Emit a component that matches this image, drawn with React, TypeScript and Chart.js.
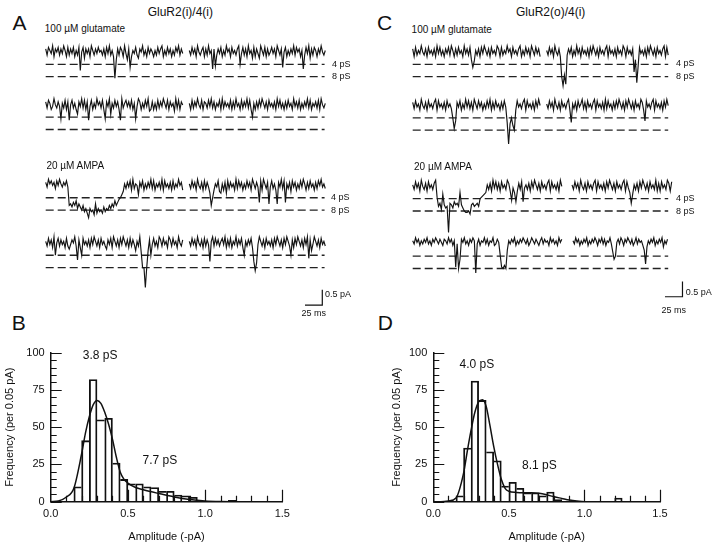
import React, { useEffect, useRef } from "react";
import { Chart, registerables } from "chart.js";
Chart.register(...registerables);

const FONT = "'Liberation Sans', Arial, Helvetica, sans-serif";
Chart.defaults.font.family = FONT;
Chart.defaults.color = "#111";

// ---------------- DATA ----------------
// Amplitude histograms (bin left edges, bin width 0.05 pA)
const binWidth = 0.05;
const binStartsB = [0.15, 0.2, 0.25, 0.3, 0.35, 0.4, 0.45, 0.5, 0.55, 0.6, 0.65, 0.7, 0.75, 0.8, 0.85, 0.9, 0.95, 1.0, 1.05, 1.1, 1.15, 1.2];
const countsB = [10, 41, 82, 55, 56, 26, 15, 12, 12, 10, 9.5, 7, 7, 4.5, 4, 3, 0, 0, 0, 0, 1, 0];
const binStartsD = [0.15, 0.2, 0.25, 0.3, 0.35, 0.4, 0.45, 0.5, 0.55, 0.6, 0.65, 0.7, 0.75, 0.8, 0.85, 0.9, 0.95, 1.0, 1.05, 1.1, 1.15, 1.2, 1.25];
const countsD = [4, 36, 81, 68, 33.5, 27.5, 10.5, 13, 9, 6, 6, 4, 6.5, 1.5, 0, 0, 0, 0, 0, 0, 0, 2.5, 0];

// Fitted curves (amplitude pA, frequency)
const fitBx = [0, 0.05, 0.1, 0.15, 0.2, 0.225, 0.25, 0.275, 0.3, 0.325, 0.35, 0.375, 0.4, 0.425, 0.45, 0.475, 0.5, 0.55, 0.6, 0.7, 0.8, 0.9, 1.0, 1.1, 1.2];
const fitBy = [0, 0.5, 3, 9, 32, 46, 57, 65, 68, 66, 60, 52, 42, 30, 20, 15, 12.5, 9.5, 8, 5.5, 3.2, 1.5, 0.5, 0.1, 0];
const fitDx = [0, 0.05, 0.1, 0.15, 0.2, 0.225, 0.25, 0.275, 0.3, 0.325, 0.35, 0.375, 0.4, 0.425, 0.45, 0.475, 0.5, 0.55, 0.6, 0.65, 0.7, 0.75, 0.8, 0.85, 0.9, 0.95, 1.0];
const fitDy = [0, 0, 0.5, 2.5, 19, 34, 48, 60, 67, 68.5, 64, 51, 37, 25, 15, 9, 7, 6.2, 6, 6, 5.6, 4.6, 3.3, 2.2, 1.1, 0.4, 0];

const xTickLabels = ["0.0", "0.5", "1.0", "1.5"];
const yTickLabels = ["0", "25", "50", "75", "100"];

// Single-channel traces. Each character is one sample; level code c -> (4 - index(c)) * 0.05 pA
const LEVELS = "0123456789abcdefghijklmnopqrstuvwxyz";
const LEVEL_STEP_PA = 0.05;
const LEVEL_ZERO = 4;

const traceA1 = [
  "2613507241" + "6250371625" + "17361g4182" + "5270362514" + "3627150637" + "l926137059" + "2e73516824" + "0637152473" + "6152073615" + "2736140625",
  "3615270463" + "1726053f2d" + "6251736042" + "7153620c51" + "6270538172" + "5803617264" + "15270362e4" + "1736250614" + "273f615082" + "6137250463",
];
const traceA2 = [
  "2613750462" + "5d36172e41" + "637a250617" + "2e51736042" + "617d250a36" + "1527e06315" + "26173d5027" + "3615087273" + "7162503617" + "2538061724",
  "3716250461" + "7236150627" + "3517062536" + "1726053716" + "250617c372" + "6150362715" + "3627051637" + "2615370526" + "1736250617" + "3526170463",
];
const traceA3 = [
  "2503142614" + "0352415hgi" + "fhejgikhlj" + "mpjlkngmjl" + "kmiljkhjgi" + "ehfdca8362" + "5170634a25" + "1736250617" + "3526071536" + "2716350427",
  "3615270462" + "716259hc73" + "5189372916" + "2537061527" + "3615270362" + "5f170362g5" + "1637g25061" + "f362815273" + "6150372615" + "3726140536",
];
const traceA4 = [
  "3615270c41" + "6253716852" + "406f27c153" + "6271503627" + "1536825170" + "3627150362" + "716259360a" + "kkxk92c516" + "3702615370" + "2615370462",
  "3615270462" + "71625g3061" + "5263150726" + "1735062517" + "c362517gmh" + "5036271536" + "2715036271" + "5036c27150" + "3627150e29" + "5036271536",
];
const traceC1 = [
  "2716350462" + "7153627051" + "6372516037" + "2615370526" + "19ea362715" + "0362715360" + "2716350427" + "1536207361" + "5270361527",
  "3615270462" + "7kqjp62517" + "3605271536" + "2715036271" + "5362071536" + "2715360271" + "5362h9od15" + "3627150362" + "7153620716",
];
const traceC2 = [
  "2615370462" + "7153620715" + "36271536cj" + "e251736051" + "6270361527" + "3615072615" + "372615ftgc" + "hk71536207" + "1536271504",
  "3615270462" + "71536207f3" + "6271530627" + "1536207153" + "6270615372" + "6150362715" + "0362715360" + "27e1536207" + "1536271504",
];
const traceC3 = [
  "3615270462" + "7153620bhf" + "j9gihyfgie" + "gfh8gikllk" + "mgfhgfhcba" + "9836270516" + "271536027d" + "58e7261e53" + "6271503627" + "1536207153" + "62704",
  "3615270462" + "7153620715" + "3627150362" + "7153620715" + "8f93627150" + "3627153607" + "2715360271",
];
const traceC4 = [
  "2403152413" + "0425130241" + "3512403152" + "j4ke130425" + "1302n41523" + "0415230541" + "3bjkik8241" + "3052413024" + "1530241352" + "0413250314" + "25031",
  "2403152413" + "0524130251" + "3041523049" + "ec31402513" + "0241530413" + "258h624130" + "5241306241",
];

// segment time windows (ms)
const segTimesA = [[0, 198], [207.5, 404]];
const segTimesC1 = [[0, 182], [191.4, 365]];
const segTimesC2 = [[0, 182], [191.4, 365]];
const segTimesC3 = [[0, 213], [227.6, 370]];
const segTimesC4 = [[0, 213], [229, 364]];

const levelsPA = [-0.4, -0.8]; // 4 pS and 8 pS current levels
const levelNames = ["4 pS", "8 pS"];
const dashRangeA = [0, 403];
const dashRangeC = [0, 365];
const scaleBarMs = 25;
const scaleBarPA = 0.5;

// ---------------- LAYOUT ----------------
const rowOffsetsA = [0, -1.72, -4.34, -6.21];
const rowOffsetsC = [0, -1.74, -4.37, -6.24];
const PX_PER_PA = 30.75;

function decode(s: string): number[] {
  return Array.from(s).map((c) => (LEVEL_ZERO - LEVELS.indexOf(c)) * LEVEL_STEP_PA);
}

function traceDatasets(rows: string[][], times: number[][][], offsets: number[], dashRange: number[], bar: { x: number; y: number }) {
  const ds: any[] = [];
  rows.forEach((segs, r) => {
    const pts: any[] = [];
    segs.forEach((s, k) => {
      const vals = decode(s);
      const [t0, t1] = times[r][k];
      const dt = (t1 - t0) / (vals.length - 1);
      vals.forEach((v, i) => pts.push({ x: t0 + i * dt, y: v + offsets[r] }));
      if (k < segs.length - 1) pts.push({ x: (t1 + times[r][k + 1][0]) / 2, y: null });
    });
    ds.push({ data: pts, borderColor: "#141414", borderWidth: 1.15, pointRadius: 0, tension: 0, spanGaps: false });
    levelsPA.forEach((lv) => {
      ds.push({
        data: [{ x: dashRange[0], y: lv + offsets[r] }, { x: dashRange[1], y: lv + offsets[r] }],
        borderColor: "#222", borderWidth: 1.3, borderDash: [8, 4], pointRadius: 0,
      });
    });
  });
  ds.push({
    data: [{ x: bar.x, y: bar.y }, { x: bar.x + scaleBarMs, y: bar.y }, { x: bar.x + scaleBarMs, y: bar.y + scaleBarPA }],
    borderColor: "#111", borderWidth: 1.2, pointRadius: 0, tension: 0,
  });
  return ds;
}

function traceConfig(left: number, top: number, w: number, h: number, originX: number, originY: number, pxPerMs: number, datasets: any[]) {
  const xmin = (left - originX) / pxPerMs;
  const xmax = (left + w - originX) / pxPerMs;
  const ymax = (originY - top) / PX_PER_PA;
  const ymin = -(top + h - originY) / PX_PER_PA;
  return {
    type: "line",
    data: { datasets },
    options: {
      animation: false, responsive: false, devicePixelRatio: 1, events: [],
      layout: { padding: 0 },
      plugins: { legend: { display: false }, tooltip: { enabled: false } },
      scales: {
        x: { type: "linear", display: false, min: xmin, max: xmax },
        y: { type: "linear", display: false, min: ymin, max: ymax },
      },
    },
  };
}

const inwardTicks = {
  id: "inwardTicks",
  afterDraw(chart: any) {
    const { ctx, chartArea, scales } = chart;
    const x = scales.x, y = scales.y;
    ctx.save();
    ctx.strokeStyle = "#111";
    ctx.lineWidth = 1.2;
    ctx.beginPath();
    for (let i = 0; i <= 20; i++) {
      const v = i * 5;
      const py = Math.round(y.getPixelForValue(v)) + 0.5;
      const len = i % 5 === 0 ? 11 : 6;
      ctx.moveTo(chartArea.left, py);
      ctx.lineTo(chartArea.left + len, py);
    }
    for (let i = 1; i <= 15; i++) {
      const v = i * 0.1;
      const px = Math.round(x.getPixelForValue(v)) + 0.5;
      const len = i % 5 === 0 ? 12 : 6;
      ctx.moveTo(px, chartArea.bottom);
      ctx.lineTo(px, chartArea.bottom - len);
    }
    ctx.stroke();
    ctx.restore();
  },
};

function histConfig(binStarts: number[], counts: number[], fx: number[], fy: number[], padLeft: number, yWidth: number, padRight: number) {
  const bw = 1.2;
  return {
    type: "bar",
    data: {
      datasets: [
        {
          type: "line",
          data: fx.map((x, i) => ({ x, y: fy[i] })),
          borderColor: "#111", borderWidth: 1.5, pointRadius: 0, cubicInterpolationMode: "monotone", order: 1,
        },
        {
          type: "bar",
          data: binStarts.map((b, i) => ({ x: b + binWidth / 2, y: counts[i] })),
          backgroundColor: "rgba(0,0,0,0)", borderColor: "#111",
          borderWidth: (c: any) => {
            const i = c.dataIndex;
            const v = counts[i];
            const prev = i > 0 ? counts[i - 1] : -1;
            const next = i < counts.length - 1 ? counts[i + 1] : -1;
            return { top: bw, bottom: 0, left: prev <= v ? bw : 0, right: next < v ? bw : 0 };
          },
          barPercentage: 1, categoryPercentage: 1, grouped: false, order: 2,
        },
      ],
    },
    options: {
      animation: false, responsive: false, devicePixelRatio: 1, events: [],
      layout: { padding: { left: padLeft, top: 12.7, right: padRight, bottom: 0 } },
      plugins: { legend: { display: false }, tooltip: { enabled: false } },
      scales: {
        x: {
          type: "linear", min: 0, max: 1.5, offset: false,
          grid: { display: false, drawTicks: false, offset: false },
          border: { display: true, color: "#111", width: 1.5 },
          ticks: {
            stepSize: 0.5, padding: 6, autoSkip: false, maxRotation: 0, font: { size: 11 }, color: "#111",
            callback: (_v: any, i: number) => xTickLabels[i],
          },
          title: { display: true, text: "Amplitude (-pA)", font: { size: 11 }, color: "#111", padding: { top: 0, bottom: 5.4 } },
          afterFit: (s: any) => { s.height = 47.3; },
        },
        y: {
          type: "linear", min: 0, max: 100,
          grid: { display: false, drawTicks: false },
          border: { display: true, color: "#111", width: 1.5 },
          ticks: {
            stepSize: 25, padding: 6, font: { size: 11 }, color: "#111",
            callback: (_v: any, i: number) => yTickLabels[i],
          },
          title: { display: true, text: "Frequency (per 0.05 pA)", font: { size: 11 }, color: "#111", padding: { top: 3.4, bottom: 0 } },
          afterFit: (s: any) => { s.width = yWidth; },
        },
      },
    },
    plugins: [inwardTicks],
  };
}

function ChartBox({ left, top, width, height, make }: { left: number; top: number; width: number; height: number; make: () => any }) {
  const ref = useRef<HTMLCanvasElement | null>(null);
  useEffect(() => {
    if (!ref.current) return;
    const chart = new Chart(ref.current, make());
    return () => chart.destroy();
  }, []);
  return (
    <canvas ref={ref} width={width} height={height}
      style={{ position: "absolute", left, top, width, height }} />
  );
}

function Label({ x, baseline, size, children }: { x: number; baseline: number; size: number; children: any }) {
  return (
    <div style={{
      position: "absolute", left: x, top: baseline - 0.847 * size, fontSize: size, lineHeight: `${size}px`,
      whiteSpace: "nowrap", fontFamily: FONT, color: "#111",
    }}>{children}</div>
  );
}

export default function App() {
  const leftTraces = () => traceConfig(40, 38, 300, 275, 45.7, 52, 0.692,
    traceDatasets([traceA1, traceA2, traceA3, traceA4], [segTimesA, segTimesA, segTimesA, segTimesA], rowOffsetsA, dashRangeA, { x: 374.7, y: -8.23 }));
  const rightTraces = () => traceConfig(405, 38, 285, 275, 412.7, 52, 0.7,
    traceDatasets([traceC1, traceC2, traceC3, traceC4], [segTimesC1, segTimesC2, segTimesC3, segTimesC4], rowOffsetsC, dashRangeC, { x: 360.4, y: -7.96 }));

  const pSLabel = (x: number, dashY: number, text: string) => (
    <Label x={x} baseline={dashY + 3.0} size={9}>{text}</Label>
  );

  return (
    <div style={{ position: "fixed", left: 0, top: 0, width: 720, height: 549, background: "#fff", overflow: "hidden", fontFamily: FONT }}>
      <ChartBox left={40} top={38} width={300} height={275} make={leftTraces} />
      <ChartBox left={405} top={38} width={285} height={275} make={rightTraces} />
      <ChartBox left={0} top={340} width={300} height={209} make={() => histConfig(binStartsB, countsB, fitBx, fitBy, 0, 50.7, 17.7)} />
      <ChartBox left={360} top={340} width={320} height={209} make={() => histConfig(binStartsD, countsD, fitDx, fitDy, 27, 46.3, 20)} />

      <Label x={12.5} baseline={30} size={21}>A</Label>
      <Label x={377} baseline={30} size={21}>C</Label>
      <Label x={11.7} baseline={330} size={21}>B</Label>
      <Label x={377.7} baseline={330} size={21}>D</Label>

      <Label x={147.7} baseline={16} size={12}>GluR2(i)/4(i)</Label>
      <Label x={516} baseline={16} size={12}>GluR2(o)/4(i)</Label>

      <Label x={44.8} baseline={32.5} size={10}>100 µM glutamate</Label>
      <Label x={411.6} baseline={33} size={10}>100 µM glutamate</Label>
      <Label x={46.4} baseline={169.5} size={10}>20 µM AMPA</Label>
      <Label x={414} baseline={170} size={10}>20 µM AMPA</Label>

      {pSLabel(332, 64.3, levelNames[0])}
      {pSLabel(332, 76.9, levelNames[1])}
      {pSLabel(331, 198.1, levelNames[0])}
      {pSLabel(331, 211, levelNames[1])}
      {pSLabel(676, 63.3, levelNames[0])}
      {pSLabel(676, 76.2, levelNames[1])}
      {pSLabel(676, 198.3, levelNames[0])}
      {pSLabel(676, 212, levelNames[1])}

      <Label x={325} baseline={298} size={9}>0.5 pA</Label>
      <Label x={301.5} baseline={316.7} size={9}>25 ms</Label>
      <Label x={685.7} baseline={295.7} size={9}>0.5 pA</Label>
      <Label x={661.5} baseline={313.7} size={9}>25 ms</Label>

      <Label x={82.8} baseline={359.3} size={12}>3.8 pS</Label>
      <Label x={142.5} baseline={464} size={12}>7.7 pS</Label>
      <Label x={459.5} baseline={368.3} size={12}>4.0 pS</Label>
      <Label x={522} baseline={469.3} size={12}>8.1 pS</Label>
    </div>
  );
}
